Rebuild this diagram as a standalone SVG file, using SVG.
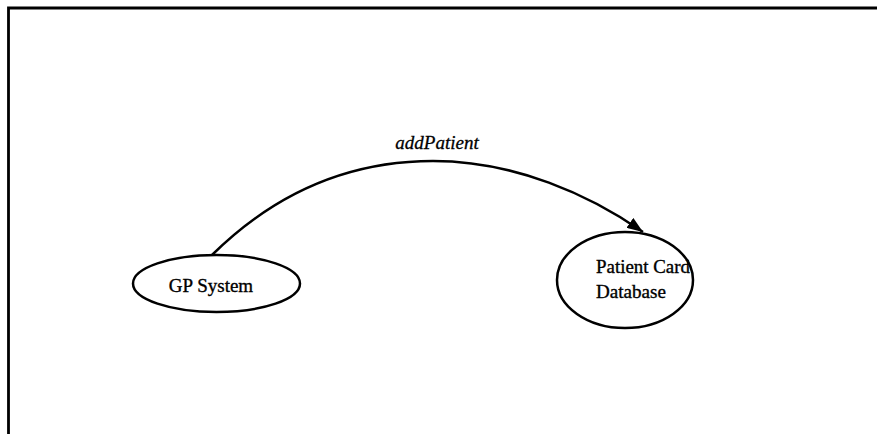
<svg xmlns="http://www.w3.org/2000/svg" width="877" height="434" viewBox="0 0 877 434">
  <defs>
    <style>
      .frame { stroke: #000; stroke-width: 2.8; fill: none; }
      .node { fill: #fff; stroke: #000; stroke-width: 2.5; }
      .label { font-family: "Liberation Serif", "Times New Roman", serif; font-size: 19px; fill: #000; stroke: #000; stroke-width: 0.35; }
      .edge { fill: none; stroke: #000; stroke-width: 2.5; }
      .edge-label { font-family: "Liberation Serif", "Times New Roman", serif; font-size: 19px; font-style: italic; fill: #000; stroke: #000; stroke-width: 0.3; }
    </style>
    <marker id="arrow" viewBox="0 0 16 12" refX="16" refY="6" markerWidth="16" markerHeight="12" markerUnits="userSpaceOnUse" orient="auto">
      <path d="M0,0 L16,6 L0,12 z" fill="#000"/>
    </marker>
  </defs>

  <rect width="877" height="434" fill="#fff"/>

  <!-- page frame: top and left rules -->
  <path class="frame" d="M8.5,434 L8.5,8 L877,8"/>

  <g id="connectors">
    <path class="edge" marker-end="url(#arrow)" d="M212,255 C290,178 370,161 433,161 C515,161 590,195 643,232"/>
    <text class="edge-label" x="437" y="149" text-anchor="middle">addPatient</text>
  </g>

  <g id="gp-system">
    <ellipse class="node" cx="216.5" cy="283.5" rx="83.5" ry="28.5"/>
    <text class="label" x="211" y="292" text-anchor="middle" font-size="20">GP System</text>
  </g>

  <g id="patient-card-database">
    <ellipse class="node" cx="625" cy="280" rx="68" ry="48"/>
    <text class="label" x="596" y="273" textLength="94" lengthAdjust="spacingAndGlyphs">Patient Card</text>
    <text class="label" x="596" y="298" textLength="70" lengthAdjust="spacingAndGlyphs">Database</text>
  </g>
</svg>
